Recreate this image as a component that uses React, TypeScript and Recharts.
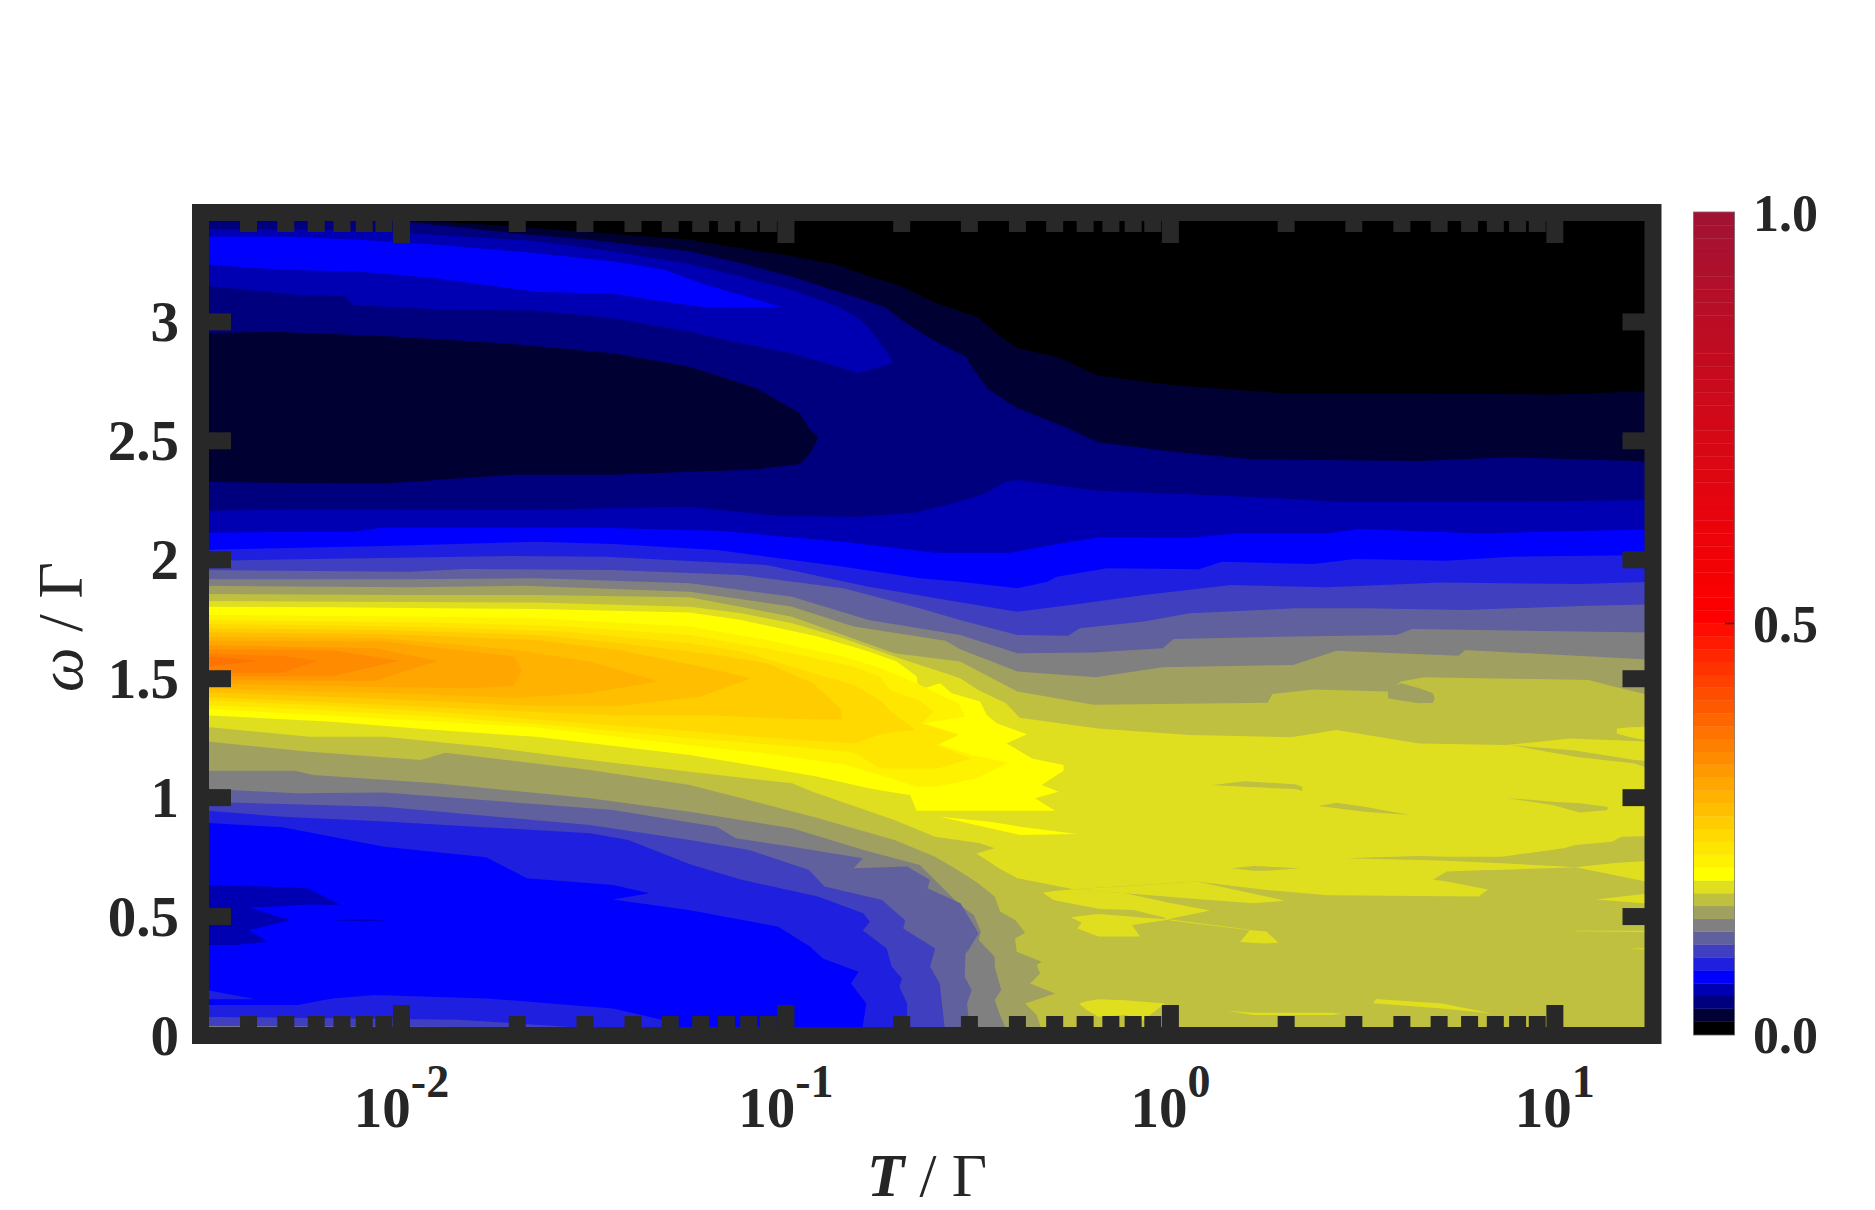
import React from "react";
import { ComposedChart, BarChart, Area, Bar, XAxis, YAxis, ReferenceArea } from "recharts";

// Contour level colours
const C0 = "#000000", C1 = "#000033", C2 = "#00007f", C3 = "#0000b2", C4 = "#0000ff", C5 = "#1f1fdf", C6 = "#3f3fbf",
  C7 = "#60609f", C8 = "#808080", C9 = "#a0a060", C10 = "#bfbf40", C11 = "#dfdf1f", C12 = "#ffff00";
const ORANGE = ["#fff200", "#ffe600", "#ffd900", "#ffcc00", "#ffbf00", "#ffb300", "#ffa600", "#ff9900", "#ff8c00", "#ff8000", "#ff7300"];

const colorbarLevels = [
  "#000000", "#000033", "#00007f", "#0000b2", "#0000ff", "#1f1fdf", "#3f3fbf", "#60609f", "#808080", "#a0a060", "#bfbf40", "#dfdf1f",
  "#ffff00", "#fff200", "#ffe600", "#ffd900", "#ffcc00", "#ffbf00", "#ffb300", "#ffa600", "#ff9900", "#ff8c00", "#ff8000", "#ff7300",
  "#ff6600", "#ff5900", "#ff4d00", "#ff4000", "#ff3300", "#ff2600", "#ff1a00", "#ff0d00", "#ff0000",
  "#fc0000", "#f90102", "#f60103", "#f30205", "#f00207", "#ed0309", "#ea040a", "#e7040c", "#e4050e", "#e1050f", "#de0611", "#db0713",
  "#d80714", "#d50816", "#d20818", "#cf091a", "#cc0a1b", "#c90a1d", "#c60b1f", "#c30b20", "#c00c22", "#bd0d24", "#ba0d25", "#b70e27",
  "#b40e29", "#b10f2b", "#ae102c", "#ab102e", "#a81130", "#a51131", "#a21233",
];

// Axis values
const T_MIN = 0.003, T_MAX = 18, W_MAX = 3.46;
const xTicks = [0.004, 0.005, 0.006, 0.007, 0.008, 0.009, 0.01, 0.02, 0.03, 0.04, 0.05, 0.06, 0.07, 0.08, 0.09, 0.1, 0.2, 0.3, 0.4, 0.5, 0.6, 0.7, 0.8, 0.9, 1, 2, 3, 4, 5, 6, 7, 8, 9, 10];
const xMajor: Record<number, string> = { 0.01: "-2", 0.1: "-1", 1: "0", 10: "1" };
const yTicks = [0, 0.5, 1, 1.5, 2, 2.5, 3];
const cbTicks = [0, 0.5, 1];

// Contour boundaries: [log10 T, omega] — region below the curve
const top0 = [[-2.53, 3.46], [1.26, 3.46]];
const u1 = [[-2.53, 3.46], [-1.98, 3.43], [-1.7, 3.4], [-1.25, 3.345], [-1.12, 3.31], [-1, 3.28], [-0.867, 3.24], [-0.8, 3.2], [-0.7, 3.15], [-0.61, 3.08], [-0.5, 3.02], [-0.451, 2.95], [-0.398, 2.89], [-0.29, 2.85], [-0.19, 2.775], [0, 2.735], [0.29, 2.7], [0.647, 2.7], [1.005, 2.695], [1.26, 2.71]];
const u2 = [[-2.53, 3.46], [-1.98, 3.42], [-1.71, 3.373], [-1.51, 3.345], [-1.25, 3.296], [-1.116, 3.247], [-0.984, 3.19], [-0.851, 3.12], [-0.745, 3.064], [-0.692, 3], [-0.625, 2.93], [-0.532, 2.854], [-0.517, 2.81], [-0.475, 2.718], [-0.398, 2.637], [-0.266, 2.553], [-0.189, 2.494], [0, 2.455], [0.217, 2.422], [0.647, 2.415], [0.886, 2.431], [1.26, 2.413]];
const u3 = [[-2.53, 2.205], [-2.24, 2.214], [-1.71, 2.209], [-1.25, 2.223], [-1.02, 2.184], [-0.811, 2.181], [-0.665, 2.198], [-0.547, 2.245], [-0.487, 2.277], [-0.4275, 2.328], [-0.398, 2.335], [-0.189, 2.289], [0, 2.279], [0.289, 2.258], [0.444, 2.243], [0.6, 2.243], [0.862, 2.244], [1.26, 2.251]];
const u4 = [[-2.53, 2.114], [-2.125, 2.118], [-2.045, 2.136], [-1.51, 2.136], [-1.18, 2.122], [-0.851, 2.076], [-0.612, 2.03], [-0.416, 2.03], [-0.308, 2.062], [-0.189, 2.094], [0.05, 2.093], [0.17, 2.111], [0.408, 2.111], [0.492, 2.129], [0.802, 2.111], [1.26, 2.128]];
const u5 = [[-2.53, 2.041], [-2.045, 2.058], [-1.65, 2.076], [-1.45, 2.066], [-1.18, 2.041], [-0.851, 1.971], [-0.652, 1.922], [-0.547, 1.908], [-0.398, 1.88], [-0.32, 1.908], [-0.296, 1.929], [-0.165, 1.964], [0.074, 1.96], [0.134, 1.992], [0.373, 1.982], [0.48, 2.003], [0.719, 1.996], [0.886, 2.013], [1.26, 2.02]];
const u6 = [[-2.53, 1.996], [-2.27, 2.002], [-1.71, 2.016], [-1.47, 2.013], [-1.05, 1.978], [-0.785, 1.887], [-0.547, 1.821], [-0.398, 1.782], [-0.26, 1.81], [-0.069, 1.852], [0.158, 1.894], [0.408, 1.884], [0.707, 1.904], [1.065, 1.898], [1.26, 1.908]];
const u7 = [[-2.53, 1.957], [-1.98, 1.95], [-1.83, 1.961], [-1.45, 1.957], [-1.116, 1.936], [-0.851, 1.88], [-0.652, 1.796], [-0.547, 1.747], [-0.398, 1.684], [-0.266, 1.681], [-0.236, 1.712], [-0.069, 1.74], [0.05, 1.775], [0.325, 1.796], [0.504, 1.796], [0.767, 1.789], [1.065, 1.806], [1.26, 1.813]];
const u8 = [[-2.53, 1.918], [-1.99, 1.918], [-1.65, 1.922], [-1.25, 1.901], [-0.984, 1.845], [-0.785, 1.747], [-0.547, 1.684], [-0.398, 1.607], [-0.2, 1.61], [-0.02, 1.628], [0.008, 1.667], [0.325, 1.677], [0.588, 1.684], [0.629, 1.709], [1.26, 1.694]];
const u9 = [[-2.53, 1.891], [-1.98, 1.884], [-1.68, 1.891], [-1.25, 1.866], [-0.984, 1.803], [-0.824, 1.719], [-0.585, 1.66], [-0.547, 1.624], [-0.398, 1.53], [-0.195, 1.506], [-0.02, 1.548], [0.319, 1.558], [0.432, 1.618], [0.749, 1.596], [0.767, 1.621], [1.26, 1.579]];
const u10 = [[-2.53, 1.856], [-1.98, 1.852], [-1.65, 1.852], [-1.25, 1.842], [-0.984, 1.761], [-0.851, 1.684], [-0.718, 1.607], [-0.547, 1.572], [-0.398, 1.446], [-0.2, 1.39], [0.253, 1.399], [0.265, 1.436], [0.373, 1.455], [0.564, 1.446], [0.6, 1.488], [0.659, 1.506], [1.089, 1.495], [1.137, 1.474], [1.26, 1.425]];
const u11 = [[-2.53, 1.827], [-1.65, 1.82], [-1.25, 1.803], [-1.116, 1.775], [-0.984, 1.733], [-0.851, 1.67], [-0.692, 1.579], [-0.585, 1.523], [-0.547, 1.502], [-0.5, 1.453], [-0.4275, 1.397], [-0.392, 1.336], [-0.189, 1.291], [0.05, 1.263], [0.313, 1.254], [0.432, 1.284], [0.647, 1.228], [0.874, 1.221], [1.041, 1.249], [1.26, 1.235]];

const l10 = [[-2.53, 1.301], [-2.24, 1.256], [-2.045, 1.256], [-1.78, 1.214], [-1.51, 1.158], [-1.25, 1.109], [-0.984, 1.06], [-0.931, 1.025], [-0.718, 0.906], [-0.612, 0.836], [-0.495, 0.808], [-0.457, 0.787], [-0.505, 0.765], [-0.443, 0.7], [-0.398, 0.661], [-0.252, 0.615], [0.068, 0.647], [0.25, 0.612], [0.408, 0.59], [0.802, 0.584], [0.826, 0.614], [0.83, 0.695], [1.054, 0.707], [1.26, 0.64]];
const l9 = [[-2.53, 1.24], [-2.24, 1.193], [-1.95, 1.158], [-1.886, 1.189], [-1.51, 1.116], [-1.25, 1.053], [-0.93, 0.92], [-0.718, 0.822], [-0.612, 0.752], [-0.547, 0.689], [-0.5, 0.64], [-0.457, 0.584], [-0.443, 0.521], [-0.404, 0.486], [-0.378, 0.432], [-0.404, 0.408], [-0.4, 0.352], [-0.335, 0.31], [-0.348, 0.296], [-0.339, 0.261], [-0.365, 0.219], [-0.3, 0.177], [-0.378, 0.135], [-0.348, 0.086], [-0.33, 0]];
const l8 = [[-2.53, 1.113], [-2.277, 1.113], [-2.23, 1.095], [-1.91, 1.06], [-1.51, 0.997], [-1.25, 0.941], [-0.984, 0.871], [-0.798, 0.78], [-0.652, 0.717], [-0.547, 0.549], [-0.511, 0.506], [-0.493, 0.436], [-0.499, 0.401], [-0.457, 0.331], [-0.457, 0.289], [-0.44, 0.191], [-0.457, 0.149], [-0.445, 0.093], [-0.42, 0]];
const l7 = [[-2.53, 1.039], [-2.27, 1.018], [-2.045, 1.022], [-1.45, 0.948], [-1.18, 0.878], [-1.13, 0.829], [-0.984, 0.794], [-0.8, 0.745], [-0.824, 0.703], [-0.685, 0.71], [-0.625, 0.654], [-0.632, 0.619], [-0.546, 0.556], [-0.499, 0.429], [-0.525, 0.359], [-0.533, 0.345], [-0.535, 0.247], [-0.517, 0.191], [-0.529, 0.135], [-0.52, 0]];
const l6 = [[-2.53, 0.983], [-2.045, 0.962], [-1.51, 0.885], [-1.25, 0.822], [-1.096, 0.78], [-0.94, 0.696], [-0.9, 0.626], [-0.75, 0.57], [-0.69, 0.485], [-0.695, 0.45], [-0.612, 0.366], [-0.625, 0.289], [-0.6, 0.219], [-0.585, 0]];
const l5 = [[-2.53, 0.948], [-2.31, 0.92], [-2.045, 0.9], [-1.51, 0.85], [-1.41, 0.822], [-1.25, 0.72], [-1.116, 0.655], [-0.917, 0.584], [-0.798, 0.513], [-0.782, 0.478], [-0.8, 0.441], [-0.738, 0.366], [-0.725, 0.289], [-0.698, 0.24], [-0.705, 0.205], [-0.685, 0.135], [-0.685, 0]];
const l4 = [[-2.53, 0.896], [-2.31, 0.875], [-2.045, 0.794], [-1.78, 0.749], [-1.674, 0.661], [-1.45, 0.633], [-1.355, 0.598], [-1.45, 0.572], [-1.25, 0.527], [-1.02, 0.457], [-0.937, 0.373], [-0.904, 0.324], [-0.811, 0.268], [-0.831, 0.219], [-0.791, 0.135], [-0.804, 0]];
const b5 = [[-2.53, 0.128], [-2.27, 0.128], [-2.18, 0.156], [-2.07, 0.17], [-1.78, 0.156], [-1.45, 0.114], [-1.32, 0.065], [-1.24, 0]];
const b6 = [[-2.53, 0.079], [-1.85, 0.066], [-1.55, 0.035], [-1.4, 0]];
const b8 = [[-2.53, 0.04], [-1.85, 0.036], [-1.8, 0]];

// Closed regions: [log10 T, low omega, high omega]
const pocketC1 = [[-2.53, 2.328, 2.952], [-2.337, 2.324, 2.959], [-2.045, 2.321, 2.941], [-1.71, 2.357, 2.907], [-1.45, 2.357, 2.868], [-1.25, 2.37, 2.812], [-1.076, 2.38, 2.721], [-0.964, 2.403, 2.616], [-0.937, 2.448, 2.546], [-0.915, 2.515, 2.515]];
const humpC3 = [[-2.53, 3.156, 3.391], [-2.27, 3.113, 3.39], [-2.15, 3.109, 3.387], [-2.125, 3.071, 3.384], [-1.91, 3.053, 3.366], [-1.65, 3.048, 3.34], [-1.45, 3.015, 3.296], [-1.25, 2.959, 3.244], [-1.116, 2.91, 3.19], [-0.984, 2.868, 3.134], [-0.864, 2.812, 3.064], [-0.811, 2.784, 3.015], [-0.785, 2.798, 2.973], [-0.738, 2.819, 2.875], [-0.722, 2.83, 2.83]];
const humpC4 = [[-2.53, 3.244, 3.359], [-2.31, 3.219, 3.359], [-2.11, 3.212, 3.345], [-1.91, 3.184, 3.324], [-1.65, 3.127, 3.289], [-1.45, 3.118, 3.254], [-1.315, 3.085, 3.219], [-1.21, 3.062, 3.156], [-1.116, 3.06, 3.113], [-1.014, 3.064, 3.064]];
const pocketC9 = [[0.566, 1.418, 1.46], [0.6, 1.408, 1.481], [0.647, 1.397, 1.46], [0.683, 1.399, 1.439], [0.687, 1.418, 1.418]];
const wedgeC10 = [[0.886, 1.221, 1.221], [1.053, 1.172, 1.198], [1.208, 1.144, 1.158], [1.26, 1.113, 1.151]];
const rightC11 = [[1.161, 1.27, 1.291], [1.197, 1.254, 1.296], [1.26, 1.235, 1.301]];
const lowC5 = [[-2.53, 0.152, 0.198], [-2.38, 0.152, 0.152]];
const lowC3a = [[-2.53, 0.54, 0.633], [-2.35, 0.54, 0.626], [-2.244, 0.551, 0.619], [-2.158, 0.549, 0.549]];
const lowC3b = [[-2.53, 0.38, 0.54], [-2.43, 0.38, 0.54], [-2.348, 0.394, 0.54], [-2.397, 0.443, 0.54], [-2.29, 0.485, 0.485]];
const lowC3c = [[-2.18, 0.485, 0.485], [-2.098, 0.48, 0.49], [-2.045, 0.485, 0.485]];

const yellow = [[-2.53, 1.348, 1.803], [-2.18, 1.319, 1.8], [-1.91, 1.284, 1.796], [-1.65, 1.256, 1.793], [-1.25, 1.179, 1.778], [-1.116, 1.144, 1.747], [-0.917, 1.088, 1.677], [-0.785, 1.039, 1.614], [-0.712, 1.02, 1.572], [-0.677, 1.011, 1.53], [-0.66, 0.945, 1.509], [-0.655, 0.945, 1.453], [-0.599, 0.945, 1.481], [-0.569, 0.945, 1.439], [-0.495, 0.945, 1.404], [-0.478, 0.945, 1.348], [-0.452, 0.945, 1.313], [-0.373, 0.945, 1.266], [-0.426, 0.945, 1.228], [-0.36, 0.945, 1.165], [-0.278, 0.945, 1.137], [-0.278, 0.945, 1.113], [-0.335, 0.945, 1.053], [-0.291, 0.945, 1.025], [-0.352, 0.945, 0.997], [-0.3, 0.945, 0.945]];
const yellowWedge = [[-0.6, 0.92, 0.92], [-0.469, 0.871, 0.899], [-0.391, 0.843, 0.878], [-0.243, 0.847, 0.847]];
const o1 = [[-2.53, 1.375, 1.768], [-2.24, 1.35, 1.765], [-1.91, 1.32, 1.761], [-1.65, 1.295, 1.754], [-1.25, 1.22, 1.719], [-1.05, 1.185, 1.663], [-0.851, 1.14, 1.593], [-0.755, 1.095, 1.545], [-0.66, 1.046, 1.481], [-0.59, 1.046, 1.425], [-0.551, 1.046, 1.397], [-0.534, 1.046, 1.341], [-0.642, 1.046, 1.313], [-0.551, 1.046, 1.268], [-0.603, 1.046, 1.226], [-0.517, 1.046, 1.179], [-0.421, 1.046, 1.147], [-0.504, 1.046, 1.081], [-0.608, 1.046, 1.046]];
const o2 = [[-2.53, 1.39, 1.747], [-2.24, 1.37, 1.743], [-1.91, 1.34, 1.736], [-1.58, 1.3, 1.722], [-1.25, 1.25, 1.684], [-0.984, 1.215, 1.607], [-0.824, 1.19, 1.551], [-0.755, 1.123, 1.509], [-0.729, 1.123, 1.453], [-0.655, 1.123, 1.411], [-0.616, 1.123, 1.362], [-0.647, 1.123, 1.313], [-0.551, 1.123, 1.263], [-0.608, 1.123, 1.221], [-0.517, 1.123, 1.165], [-0.603, 1.123, 1.123]];
const o3 = [[-2.53, 1.41, 1.73], [-2.24, 1.39, 1.726], [-1.91, 1.36, 1.716], [-1.58, 1.32, 1.698], [-1.25, 1.28, 1.649], [-1.116, 1.26, 1.614], [-0.824, 1.228, 1.474], [-0.755, 1.265, 1.41], [-0.725, 1.275, 1.36], [-0.664, 1.284, 1.284]];
const o4 = [[-2.53, 1.425, 1.712], [-2.045, 1.39, 1.705], [-1.65, 1.36, 1.684], [-1.435, 1.345, 1.65], [-1.18, 1.345, 1.6], [-1.05, 1.335, 1.565], [-0.93, 1.33, 1.481], [-0.855, 1.33, 1.37]];
const o5 = [[-2.53, 1.445, 1.695], [-2.045, 1.415, 1.688], [-1.65, 1.385, 1.663], [-1.435, 1.385, 1.621], [-1.222, 1.425, 1.551], [-1.09, 1.502, 1.502]];
const o6 = [[-2.53, 1.46, 1.677], [-2.045, 1.44, 1.67], [-1.7, 1.42, 1.621], [-1.51, 1.44, 1.572], [-1.33, 1.488, 1.488]];
const o7 = [[-2.53, 1.48, 1.66], [-2.045, 1.465, 1.656], [-1.82, 1.46, 1.614], [-1.707, 1.47, 1.593], [-1.687, 1.537, 1.537]];
const o8 = [[-2.53, 1.495, 1.642], [-2.07, 1.49, 1.628], [-1.906, 1.576, 1.576]];
const o9 = [[-2.53, 1.51, 1.625], [-2.18, 1.51, 1.62], [-2.005, 1.576, 1.576]];
const o10 = [[-2.53, 1.525, 1.607], [-2.31, 1.525, 1.596], [-2.218, 1.576, 1.576]];
const o11 = [[-2.53, 1.545, 1.597], [-2.37, 1.576, 1.576]];

// Islands on the right
const islJ = [[0.11, 1.053, 1.053], [0.193, 1.046, 1.069], [0.325, 1.036, 1.056], [0.343, 1.028, 1.045]];
const islK = [[0.385, 0.965, 0.965], [0.432, 0.955, 0.979], [0.504, 0.941, 0.962], [0.623, 0.927, 0.927]];
const islL = [[0.874, 0.999, 0.999], [0.994, 0.969, 0.983], [1.065, 0.937, 0.976], [1.137, 0.948, 0.962]];
const islM = [[0.456, 0.745, 0.745], [0.647, 0.738, 0.755], [0.719, 0.735, 0.752], [0.862, 0.724, 0.752], [1.023, 0.71, 0.787], [1.053, 0.707, 0.801], [1.149, 0.724, 0.815], [1.173, 0.727, 0.836], [1.26, 0.735, 0.839]];
const islN = [[0.16, 0.703, 0.703], [0.216, 0.693, 0.713], [0.25, 0.693, 0.71], [0.337, 0.703, 0.703]];
const islA = [[0.683, 0.656, 0.656], [0.719, 0.647, 0.689], [0.826, 0.614, 0.696], [0.835, 0.6, 0.696]];
const y11B = [[-0.332, 0.6, 0.6], [-0.304, 0.57, 0.607], [-0.252, 0.553, 0.615], [-0.183, 0.532, 0.606], [-0.118, 0.529, 0.598], [-0.096, 0.528, 0.591], [-0.018, 0.497, 0.563], [-0.01, 0.488, 0.56], [0.103, 0.525, 0.525]];
const y11C = [[-0.252, 0.615, 0.615], [-0.118, 0.598, 0.627], [0.068, 0.574, 0.647], [0.216, 0.556, 0.596], [0.298, 0.567, 0.567]];
const y11D = [[-0.259, 0.497, 0.497], [-0.231, 0.474, 0.502], [-0.242, 0.45, 0.501], [-0.187, 0.416, 0.511], [-0.079, 0.416, 0.497], [-0.1, 0.465, 0.498], [0, 0.488, 0.488]];
const y11S = [[0, 0.484, 0.488], [0.207, 0.443, 0.445]];
const y11E = [[0.181, 0.394, 0.394], [0.207, 0.39, 0.444], [0.25, 0.387, 0.437], [0.281, 0.39, 0.39], [0.311, 0.378, 0.378]];
const y11F = [[-0.238, 0.135, 0.135], [-0.218, 0.107, 0.144], [-0.187, 0.079, 0.152], [-0.118, 0.086, 0.148], [-0.07, 0.065, 0.142], [-0.036, 0.107, 0.138], [-0.014, 0.135, 0.135]];
const y11G = [[0.528, 0.135, 0.135], [0.534, 0.135, 0.153], [0.707, 0.114, 0.135], [0.838, 0.093, 0.093]];
const y11H = [[0.147, 0.104, 0.104], [0.216, 0.086, 0.096], [0.42, 0.086, 0.096], [0.446, 0.091, 0.091]];
const y11I = [[1.107, 0.572, 0.572], [1.232, 0.556, 0.595], [1.26, 0.556, 0.595]];
const y11T = [[1.053, 0.438, 0.44], [1.26, 0.435, 0.44]];
const y11U = [[1.19, 0.366, 0.366], [1.26, 0.359, 0.367]];

const layers: [number[][], string][] = [
  [top0, C0], [u1, C1], [u2, C2], [pocketC1, C1], [humpC3, C3], [humpC4, C4],
  [u3, C3], [u4, C4], [u5, C5], [u6, C6], [u7, C7], [u8, C8], [u9, C9], [u10, C10], [u11, C11],
  [pocketC9, C9], [wedgeC10, C10], [rightC11, C11],
  [l10, C10], [l9, C9], [l8, C8], [l7, C7], [l6, C6], [l5, C5], [l4, C4],
  [b5, C5], [lowC5, C5], [b6, C6], [b8, C8], [lowC3a, C3], [lowC3b, C3], [lowC3c, C3],
  [yellow, C12], [yellowWedge, C12],
  [o1, ORANGE[0]], [o2, ORANGE[1]], [o3, ORANGE[2]], [o4, ORANGE[3]], [o5, ORANGE[4]], [o6, ORANGE[5]],
  [o7, ORANGE[6]], [o8, ORANGE[7]], [o9, ORANGE[8]], [o10, ORANGE[9]], [o11, ORANGE[10]],
  [islJ, C10], [islK, C10], [islL, C10], [islM, C10], [islN, C10], [islA, C10],
  [y11B, C11], [y11C, C11], [y11D, C11], [y11S, C11], [y11E, C11], [y11F, C11], [y11G, C11], [y11H, C11], [y11I, C11], [y11T, C11], [y11U, C11],
];

const toRows = (pts: number[][]) =>
  pts.map((p) => ({ T: Math.pow(10, p[0]), w: p.length === 3 ? [p[1], p[2]] : p[1] }));

const INK = "#282828";
const TEXT = "#262626";
const FONT = "'Liberation Serif', 'Times New Roman', serif";
const LEFT = 200.5, TOP = 212.5, RIGHT = 1653, BOTTOM = 1035.5;

const XTick = (p: any) => {
  const { x, payload } = p;
  const exp = xMajor[payload.value];
  const major = exp !== undefined;
  const len = major ? 30.5 : 19.5;
  return (
    <g>
      <line x1={x} x2={x} y1={BOTTOM} y2={BOTTOM - len} stroke={INK} strokeWidth={17} />
      <line x1={x} x2={x} y1={TOP} y2={TOP + len} stroke={INK} strokeWidth={17} />
      {major && (
        <text x={x} y={1127} textAnchor="middle" fontFamily={FONT} fontWeight="bold" fill={TEXT} fontSize={57}>
          <tspan>10</tspan>
          <tspan dy={-30} fontSize={46}>{exp}</tspan>
        </text>
      )}
    </g>
  );
};

const YTick = (p: any) => {
  const { y, payload } = p;
  return (
    <g>
      <line x1={LEFT} x2={LEFT + 30.5} y1={y} y2={y} stroke={INK} strokeWidth={17} />
      <line x1={RIGHT} x2={RIGHT - 30.5} y1={y} y2={y} stroke={INK} strokeWidth={17} />
      <text x={179} y={y + 19} textAnchor="end" fontFamily={FONT} fontWeight="bold" fill={TEXT} fontSize={57}>
        {String(payload.value)}
      </text>
    </g>
  );
};

const CbTick = (p: any) => {
  const { x, y, payload } = p;
  return (
    <g>
      {payload.value === 0.5 && <line x1={x - 9} x2={x} y1={y} y2={y} stroke={INK} strokeWidth={1.5} />}
      <text x={1753 - 1680} y={y + 18} textAnchor="start" fontFamily={FONT} fontWeight="bold" fill={TEXT} fontSize={52}>
        {payload.value.toFixed(1)}
      </text>
    </g>
  );
};

const cbRow: Record<string, any> = { name: "cb" };
colorbarLevels.forEach((_, i) => {
  cbRow["l" + i] = 1 / colorbarLevels.length;
});

export default function App() {
  return (
    <div style={{ position: "absolute", left: 0, top: 0, width: 1875, height: 1210, background: "#fff" }}>
      <div style={{ position: "absolute", left: 0, top: 0 }}>
        <ComposedChart
          width={1875}
          height={1210}
          data={[{ T: T_MIN }, { T: T_MAX }]}
          margin={{ top: TOP, left: LEFT - 1, right: 1875 - RIGHT, bottom: 1210 - BOTTOM - 1 }}
        >
          {layers.map(([pts, color], i) => (
            <Area
              key={i}
              data={toRows(pts)}
              dataKey="w"
              type="linear"
              stroke="none"
              fill={color}
              fillOpacity={1}
              dot={false}
              activeDot={false}
              isAnimationActive={false}
            />
          ))}
          <ReferenceArea x1={T_MIN} x2={T_MAX} y1={0} y2={W_MAX} fill="none" stroke={INK} strokeWidth={17} />
          <XAxis
            dataKey="T"
            type="number"
            scale="log"
            domain={[T_MIN, T_MAX]}
            allowDataOverflow
            ticks={xTicks}
            interval={0}
            height={1}
            tickSize={0}
            tickMargin={0}
            axisLine={false}
            tickLine={false}
            tick={(p: any) => <XTick {...p} />}
          />
          <YAxis
            type="number"
            domain={[0, W_MAX]}
            allowDataOverflow
            ticks={yTicks}
            interval={0}
            width={1}
            tickSize={0}
            tickMargin={0}
            axisLine={false}
            tickLine={false}
            tick={(p: any) => <YTick {...p} />}
          />
          <text x={927} y={1196} textAnchor="middle" fontFamily={FONT} fill={TEXT} fontSize={61}>
            <tspan fontStyle="italic" fontWeight="bold">T</tspan>
            <tspan> / Γ</tspan>
          </text>
          <text x={82} y={627} transform="rotate(-90 82 627)" textAnchor="middle" fontFamily={FONT} fill={TEXT} fontSize={63}>
            <tspan fontStyle="italic">ω</tspan>
            <tspan> / Γ</tspan>
          </text>
        </ComposedChart>
      </div>
      <div style={{ position: "absolute", left: 1680, top: 150 }}>
        <BarChart
          width={195}
          height={940}
          data={[cbRow]}
          barCategoryGap={0}
          margin={{ top: 62.5, left: 14, right: 140, bottom: 55.5 }}
        >
          <XAxis dataKey="name" hide />
          <YAxis
            orientation="right"
            type="number"
            domain={[0, 1]}
            ticks={cbTicks}
            interval={0}
            width={1}
            tickSize={0}
            tickMargin={0}
            axisLine={false}
            tickLine={false}
            tick={(p: any) => <CbTick {...p} />}
          />
          {colorbarLevels.map((c, i) => (
            <Bar key={i} dataKey={"l" + i} stackId="cb" fill={c} stroke={c} strokeWidth={0.4} isAnimationActive={false} />
          ))}
          <ReferenceArea y1={0} y2={1} fill="none" stroke="#808080" strokeWidth={2} />
        </BarChart>
      </div>
    </div>
  );
}
